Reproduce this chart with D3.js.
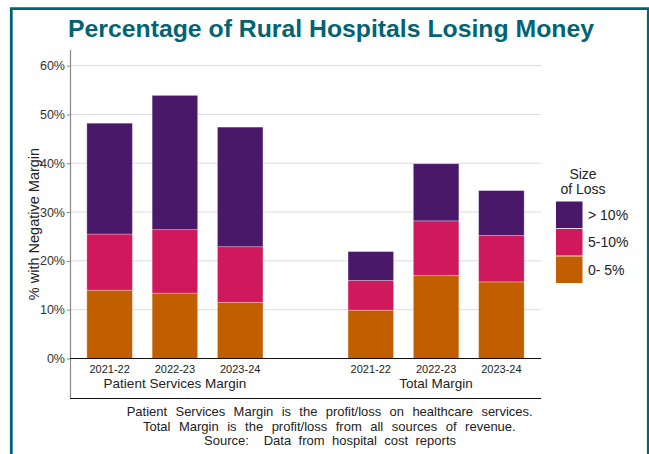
<!DOCTYPE html>
<html>
<head>
<meta charset="utf-8">
<script src="https://cdn.jsdelivr.net/npm/d3@7"></script>
<style>
  html, body { margin: 0; padding: 0; background: #fff; }
  svg { display: block; }
</style>
</head>
<body>
<svg id="chart" width="649" height="454"></svg>
<script>
// ---- data ----
const groups = ["Patient Services Margin", "Total Margin"];
const years = ["2021-22", "2022-23", "2023-24"];
const lossLevels = ["0- 5%", "5-10%", "> 10%"];
// values in percent, per bar (group x year order)
const loss0to5   = [14.0, 13.4, 11.5, 9.9, 17.0, 15.7];
const loss5to10  = [11.5, 13.0, 11.4, 6.1, 11.2, 9.5];
const lossOver10 = [22.7, 27.5, 24.5, 5.9, 11.7, 9.2];
const yTicks = [0, 10, 20, 30, 40, 50, 60];
const footnotes = [
  "Patient Services Margin is the profit/loss on healthcare services.",
  "Total Margin is the profit/loss from all sources of revenue.",
  "Source:  Data from hospital cost reports"
];

const colors = {"0- 5%": "#c15f00", "5-10%": "#d0185c", "> 10%": "#4a1868"};
const teal = "#006474";

const svg = d3.select("#chart");
const font = "'Liberation Sans', Arial, sans-serif";

// frame
svg.append("path")
  .attr("d", "M11.3,460 V8.7 H648.3 V460")
  .attr("fill", "none").attr("stroke", teal).attr("stroke-width", 2.8);

// title
const title = svg.append("text")
  .attr("x", 68).attr("y", 37)
  .attr("font-family", "'Liberation Sans Narrow', 'Liberation Sans', Arial, sans-serif")
  .attr("font-weight", "bold").attr("font-size", 24)
  .attr("fill", teal)
  .text("Percentage of Rural Hospitals Losing Money");
title.attr("textLength", 526).attr("lengthAdjust", "spacingAndGlyphs");

// scales
const slots = ["a0", "a1", "a2", "gap", "b0", "b1", "b2"];
const x = d3.scaleBand().domain(slots).range([70, 541]).paddingInner(0.303).paddingOuter(0.258);
const y = d3.scaleLinear().domain([0, 63.2]).range([358.5, 50]);

const rows = [];
groups.forEach((g, gi) => years.forEach((yr, yi) => {
  const i = gi * 3 + yi;
  rows.push({slot: (gi === 0 ? "a" : "b") + yi, year: yr, group: g,
    "0- 5%": loss0to5[i], "5-10%": loss5to10[i], "> 10%": lossOver10[i]});
}));

// gridlines
svg.append("g").selectAll("line").data(yTicks.filter(d => d > 0)).join("line")
  .attr("x1", 70).attr("x2", 541)
  .attr("y1", d => y(d)).attr("y2", d => y(d))
  .attr("stroke", "#dcdcdc").attr("stroke-width", 1);

// bars
const stack = d3.stack().keys(lossLevels)(rows);
svg.append("g").selectAll("g").data(stack).join("g")
  .attr("fill", d => colors[d.key])
  .selectAll("rect").data(d => d).join("rect")
  .attr("x", d => x(d.data.slot))
  .attr("width", x.bandwidth())
  .attr("y", d => y(d[1]))
  .attr("height", d => y(d[0]) - y(d[1]))
  .attr("stroke", "rgba(255,255,255,0.35)").attr("stroke-width", 0.8);

// y axis
const yAxis = d3.axisLeft(y).tickValues(yTicks).tickFormat(d => d + "%").tickSize(3).tickPadding(2);
const ya = svg.append("g").attr("transform", "translate(70,0)").call(yAxis);
ya.select(".domain").remove();
ya.selectAll(".tick line").attr("stroke", "#888");
ya.selectAll("text").attr("font-family", font).attr("font-size", 12.5).attr("fill", "#333");
svg.append("line").attr("x1", 70.5).attr("x2", 70.5).attr("y1", 50).attr("y2", 398.5)
  .attr("stroke", "#888").attr("stroke-width", 1.2);

// x axis lines
svg.append("line").attr("x1", 70).attr("x2", 541).attr("y1", 358.5).attr("y2", 358.5)
  .attr("stroke", "#111").attr("stroke-width", 1.2);
svg.append("line").attr("x1", 70).attr("x2", 541).attr("y1", 398.5).attr("y2", 398.5)
  .attr("stroke", "#111").attr("stroke-width", 1.2);

// year labels
svg.append("g").selectAll("text").data(rows).join("text")
  .attr("x", d => x(d.slot) + x.bandwidth() / 2).attr("y", 372.5)
  .attr("text-anchor", "middle").attr("font-family", font).attr("font-size", 11)
  .attr("fill", "#222").text(d => d.year);

// group labels
svg.append("g").selectAll("text").data(groups).join("text")
  .attr("x", (d, i) => {
    const a = x((i === 0 ? "a" : "b") + 0), b = x((i === 0 ? "a" : "b") + 2) + x.bandwidth();
    return (a + b) / 2;
  })
  .attr("y", 388)
  .attr("text-anchor", "middle").attr("font-family", font).attr("font-size", 13.5)
  .attr("fill", "#222").text(d => d);

// y title
svg.append("text")
  .attr("transform", "translate(38.5,224) rotate(-90)")
  .attr("text-anchor", "middle").attr("font-family", font).attr("font-size", 14.5)
  .attr("fill", "#222").text("% with Negative Margin");

// legend
const lg = svg.append("g");
lg.append("text").attr("x", 583).attr("y", 179).attr("text-anchor", "middle")
  .attr("font-family", font).attr("font-size", 14).attr("fill", "#222").text("Size");
lg.append("text").attr("x", 583).attr("y", 194).attr("text-anchor", "middle")
  .attr("font-family", font).attr("font-size", 14).attr("fill", "#222").text("of Loss");
const legendOrder = lossLevels.slice().reverse();
const ly = d3.scaleBand().domain(legendOrder).range([201.5, 283]).paddingInner(0.03);
lg.selectAll("rect").data(legendOrder).join("rect")
  .attr("x", 556).attr("width", 26.5)
  .attr("y", d => ly(d)).attr("height", ly.bandwidth())
  .attr("fill", d => colors[d]);
lg.selectAll("text.l").data(legendOrder).join("text").attr("class", "l")
  .attr("x", 588).attr("y", d => ly(d) + ly.bandwidth() / 2 + 5)
  .attr("font-family", font).attr("font-size", 14).attr("fill", "#222").text(d => d);

// footnotes: justify with word spacing
const fnX = [[126.7, 532.7], [143, 515.7], [204, 456]];
const fnY = [416, 430.5, 445];
svg.append("g").selectAll("text").data(footnotes).join("text")
  .attr("x", (d, i) => fnX[i][0]).attr("y", (d, i) => fnY[i])
  .attr("font-family", font).attr("font-size", 13).attr("fill", "#222")
  .style("white-space", "pre")
  .text(d => d)
  .each(function(d, i) {
    const natural = this.getComputedTextLength();
    const spaces = (d.match(/ /g) || []).length;
    const ws = Math.max(0, (fnX[i][1] - fnX[i][0] - natural) / spaces);
    d3.select(this).style("word-spacing", ws + "px");
  });
</script>
</body>
</html>
